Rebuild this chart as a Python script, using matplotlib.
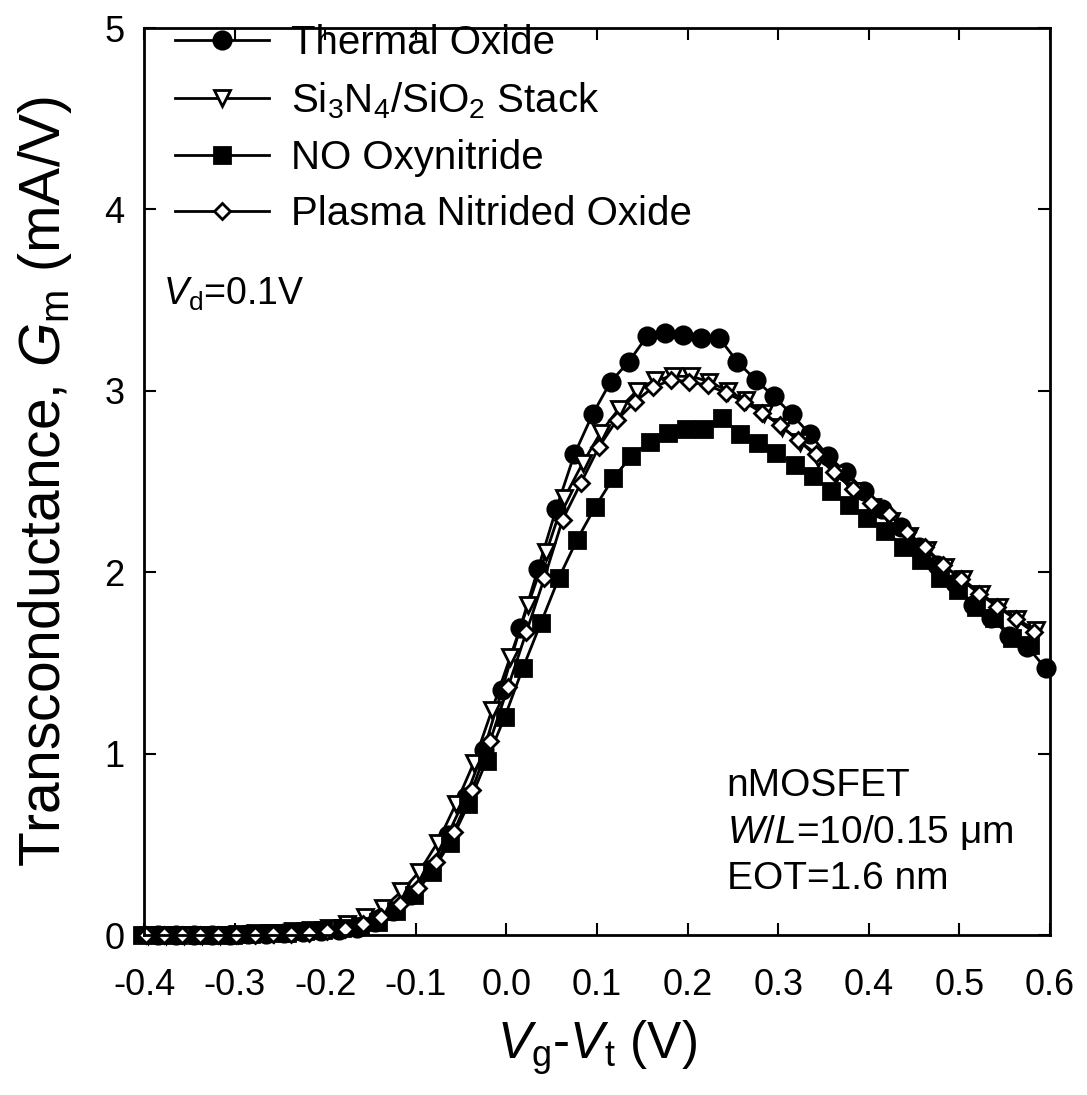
import numpy as np
import matplotlib
matplotlib.use("Agg")
import matplotlib.pyplot as plt

plt.rcParams['font.family'] = ['Liberation Sans', 'DejaVu Sans']
plt.rcParams['mathtext.fontset'] = 'custom'
plt.rcParams['mathtext.rm'] = 'Liberation Sans'
plt.rcParams['mathtext.it'] = 'Liberation Sans:italic'

#%% data (Gm in mA/V vs Vg-Vt in V, sweep step 0.02 V)

x_thermal = -0.385 + 0.02 * np.arange(50)
gm_thermal = [0.0, 0.0, 0.0, 0.0, 0.0, 0.005, 0.005, 0.01, 0.015, 0.02,
              0.03, 0.04, 0.07, 0.13, 0.22, 0.36, 0.55, 0.76, 1.02, 1.35,
              1.69, 2.02, 2.35, 2.65, 2.87, 3.05, 3.16, 3.30, 3.32, 3.31,
              3.29, 3.29, 3.16, 3.06, 2.97, 2.87, 2.76, 2.64, 2.55, 2.45,
              2.35, 2.25, 2.14, 2.04, 1.94, 1.82, 1.75, 1.65, 1.59, 1.47]

x_stack = -0.396 + 0.02 * np.arange(50)
gm_stack = [0.0, 0.0, 0.0, 0.0, 0.0, 0.005, 0.01, 0.01, 0.02, 0.03,
            0.04, 0.06, 0.10, 0.15, 0.24, 0.35, 0.51, 0.72, 0.95, 1.24,
            1.53, 1.82, 2.11, 2.41, 2.60, 2.77, 2.90, 3.00, 3.06, 3.08,
            3.08, 3.05, 3.00, 2.95, 2.88, 2.80, 2.72, 2.63, 2.54, 2.45,
            2.36, 2.28, 2.20, 2.12, 2.03, 1.96, 1.88, 1.81, 1.74, 1.68]

x_no = -0.402 + 0.02 * np.arange(50)
gm_no = [0.0, 0.0, 0.0, 0.0, 0.0, 0.0, 0.005, 0.01, 0.01, 0.02,
         0.03, 0.04, 0.05, 0.07, 0.13, 0.22, 0.35, 0.51, 0.72, 0.96,
         1.20, 1.47, 1.72, 1.97, 2.18, 2.36, 2.52, 2.64, 2.72, 2.77,
         2.79, 2.79, 2.85, 2.76, 2.71, 2.66, 2.59, 2.53, 2.45, 2.37,
         2.30, 2.23, 2.14, 2.07, 1.97, 1.90, 1.81, 1.75, 1.64, 1.60]

x_plasma = -0.398 + 0.02 * np.arange(50)
gm_plasma = [0.0, 0.0, 0.0, 0.0, 0.0, 0.0, 0.0, 0.005, 0.005, 0.01,
             0.02, 0.035, 0.06, 0.10, 0.17, 0.26, 0.40, 0.57, 0.80, 1.07,
             1.37, 1.67, 1.97, 2.29, 2.49, 2.69, 2.84, 2.94, 3.02, 3.06,
             3.05, 3.03, 2.99, 2.94, 2.88, 2.81, 2.73, 2.65, 2.55, 2.46,
             2.38, 2.32, 2.22, 2.14, 2.04, 1.96, 1.88, 1.81, 1.74, 1.67]

labels = ['Thermal Oxide', 'Si$_3$N$_4$/SiO$_2$ Stack',
          'NO Oxynitride', 'Plasma Nitrided Oxide']

#%% figure

fig = plt.figure(figsize=(10.87, 10.95), dpi=100)
ax = fig.add_axes([0.1325, 0.1461, 0.8335, 0.8283])

kw = dict(color='k', lw=2, mec='k', mew=2, clip_on=False)
ax.plot(x_thermal, gm_thermal, marker='o', ms=12.5, mfc='k', label=labels[0], **kw)
ax.plot(x_stack, gm_stack, marker='v', ms=11.5, mfc='w', label=labels[1], **kw)
ax.plot(x_no, gm_no, marker='s', ms=11, mfc='k', label=labels[2], **kw)
ax.plot(x_plasma, gm_plasma, marker='D', ms=8.5, mfc='w', label=labels[3], **kw)

ax.set_xlim(-0.4, 0.6)
ax.set_ylim(0, 5)
ax.set_xticks(np.arange(-0.4, 0.61, 0.1))
ax.set_xticklabels(['-0.4', '-0.3', '-0.2', '-0.1', '0.0', '0.1', '0.2',
                    '0.3', '0.4', '0.5', '0.6'])
ax.set_yticks([0, 1, 2, 3, 4, 5])
ax.tick_params(direction='in', top=True, right=True, length=8.5, width=1.5,
               labelsize=26)
ax.tick_params(axis='x', pad=24)
ax.tick_params(axis='y', pad=14)
for s in ax.spines.values():
    s.set_linewidth(2)

ax.set_xlabel('$V_\\mathregular{g}$-$V_\\mathregular{t}$ (V)', fontsize=37, labelpad=11)
ax.set_ylabel('Transconductance, $G_\\mathregular{m}$ (mA/V)', fontsize=41, labelpad=22)

ax.legend(loc='upper left', bbox_to_anchor=(0.034, 1.004), frameon=False,
          fontsize=29, handlelength=2.33, handletextpad=0.56, labelspacing=0.45,
          borderpad=0, borderaxespad=0)

ax.text(0.021, 0.706, '$V_\\mathregular{d}$=0.1V', transform=ax.transAxes,
        fontsize=27, va='center')
ax.text(0.643, 0.113, 'nMOSFET\n$W$/$L$=10/0.15 μm\nEOT=1.6 nm',
        transform=ax.transAxes, fontsize=28, va='center', linespacing=1.3)

fig.savefig('out.png', dpi=100)
